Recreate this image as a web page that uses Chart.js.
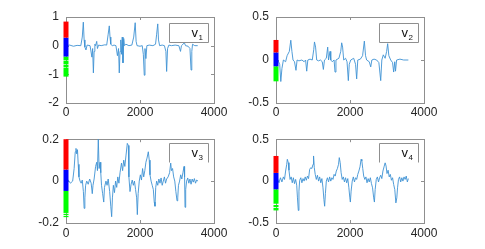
<!DOCTYPE html>
<html>
<head>
<meta charset="utf-8">
<script src="https://cdn.jsdelivr.net/npm/chart.js@4.4.1/dist/chart.umd.min.js"></script>
<style>
  html, body { margin: 0; padding: 0; background: #ffffff; }
  #wrap { position: relative; width: 485px; height: 249px; background: #ffffff; overflow: hidden; }
  canvas { position: absolute; }
</style>
</head>
<body>
<div id="wrap">
  <canvas id="c1" width="240" height="125" style="left:0px;top:0px;width:240px;height:125px"></canvas>
  <canvas id="c2" width="245" height="125" style="left:240px;top:0px;width:245px;height:125px"></canvas>
  <canvas id="c3" width="240" height="124" style="left:0px;top:125px;width:240px;height:124px"></canvas>
  <canvas id="c4" width="245" height="124" style="left:240px;top:125px;width:245px;height:124px"></canvas>
</div>
<script>
// ---------------- data ----------------
const xTicks = [0, 2000, 4000];
const v1Ticks = [-2, -1, 0, 1];
const v2Ticks = [-0.5, 0, 0.5];
const v3Ticks = [-0.2, 0, 0.2];
const v4Ticks = [-0.5, 0, 0.5];

const seriesNames = ["v", "v", "v", "v"];
const seriesSubs = ["1", "2", "3", "4"];

const v1X = [0,100,200,300,400,440,468,490,510,540,570,650,700,720,740,760,780,800,830,850,880,950,1050,1100,1140,1170,1190,1210,1250,1300,1350,1390,1420,1440,1460,1480,1500,1520,1540,1560,1580,1620,1700,1780,1830,1870,1895,1920,2000,2060,2090,2115,2135,2160,2185,2250,2350,2420,2450,2480,2500,2530,2600,2660,2700,2720,2745,2780,2850,2950,3050,3095,3120,3200,3230,3300,3350,3380,3400,3420,3480,3560];
const v1Y = [0,0.02,-0.02,0.01,0,0.3,0.82,0.2,-0.05,-0.15,0.02,0,-0.4,-0.1,-0.95,-0.2,0.05,0,0.15,-0.1,0.02,0,0.03,0.02,0.4,0.69,0.3,0.05,0,0.02,0,-0.35,-0.1,-0.95,-0.2,0.2,-0.3,0.3,-0.6,0.25,0,0.05,0,0.02,0.3,0.8,0.15,0,-0.02,0,-0.3,-1.03,-0.1,-0.45,0,0.02,0,0.05,0.4,0.76,0.2,0,0.02,0,-0.2,-0.9,-0.1,0.02,0,0.02,0,-0.2,0,0.1,0,-0.02,-0.1,-0.85,-0.2,0.05,0,0];

const v2X = [0,60,100,130,160,200,260,300,360,400,430,460,500,540,570,620,700,760,800,830,860,920,980,1020,1040,1070,1100,1150,1200,1250,1280,1310,1360,1397,1420,1460,1480,1520,1570,1595,1620,1700,1750,1775,1800,1830,1880,1920,1955,1980,2020,2100,2150,2180,2210,2280,2340,2388,2420,2450,2520,2560,2590,2650,2720,2780,2830,2860,2900,2950,2990,3018,3050,3100,3150,3180,3210,3230,3260,3350,3450,3577];
const v2Y = [0,-0.01,-0.05,-0.25,-0.1,0,-0.02,0.05,0.1,0.23,0.1,0,-0.02,-0.12,0,-0.01,0,-0.02,0,-0.13,0,0.01,0,0.12,0.21,0.15,0,-0.01,0,-0.02,-0.11,0,0.02,0.15,0,0.1,0,-0.02,0,-0.14,0,0.02,0.1,0.2,0.15,0,0.02,-0.02,-0.24,-0.05,0,0.02,-0.05,-0.22,0,0.01,0.05,0.22,0.05,0,-0.02,-0.08,0,0.01,0,-0.03,-0.24,0,0.06,0.02,0.1,0.19,0.05,0,-0.03,-0.14,-0.02,-0.13,0,0.01,0,0];

const v3X = [0,60,120,180,220,250,270,290,310,330,350,380,410,440,470,490,510,530,560,600,640,680,710,730,760,800,830,850,873,895,920,940,960,990,1020,1040,1080,1110,1140,1180,1210,1234,1255,1280,1310,1340,1370,1400,1430,1460,1500,1530,1560,1590,1620,1657,1685,1700,1730,1760,1790,1820,1850,1880,1910,1928,1950,1980,2010,2040,2070,2100,2130,2160,2190,2225,2250,2270,2300,2330,2360,2385,2405,2425,2450,2480,2510,2540,2570,2600,2630,2660,2690,2720,2760,2800,2830,2850,2880,2910,2940,2970,3000,3020,3040,3070,3100,3130,3160,3190,3205,3217,3235,3260,3290,3320,3350,3380,3410,3440,3470,3500,3530,3568];
const v3Y = [0,0.005,-0.01,0,0.06,0.14,0.156,0.13,0.15,0.08,0.02,0,-0.01,0.005,-0.05,-0.13,-0.08,-0.02,0,-0.015,0.01,-0.01,-0.06,-0.02,0.01,0.07,0.09,0.05,0.2,0.06,0.09,0.04,-0.02,-0.06,-0.1,-0.03,0,-0.02,0.01,-0.05,-0.12,-0.17,-0.08,-0.02,-0.055,0,-0.03,0.02,-0.01,0.04,0.086,0.05,0.1,0.07,0.12,0.18,0.17,0.02,-0.05,-0.015,0.005,-0.02,0,-0.04,-0.08,-0.16,-0.06,0,0.03,0.005,0.06,0.02,0.05,0.09,0.11,0.14,0.1,0.03,0,-0.02,-0.04,-0.1,-0.12,-0.03,0,-0.02,0.01,-0.01,0.015,-0.02,0,0.02,-0.01,0.01,0.02,0.04,0.086,0.05,0.06,0.02,0,-0.05,-0.094,-0.08,-0.02,0,0.03,0.01,0.04,0.07,0.02,-0.125,-0.04,0,0.015,-0.01,0.01,-0.015,0.01,-0.005,0.012,-0.01,0.005,0];

const v4X = [0,40,80,120,160,200,230,260,290,306,333,350,380,410,440,470,500,530,560,580,603,620,640,670,700,730,760,790,820,850,880,910,940,970,1000,1015,1035,1060,1090,1120,1150,1180,1210,1240,1270,1295,1315,1335,1360,1390,1420,1450,1480,1510,1540,1570,1600,1630,1660,1690,1710,1735,1760,1790,1820,1850,1880,1910,1940,1970,1995,2010,2030,2060,2090,2120,2150,2180,2210,2240,2270,2300,2320,2345,2370,2400,2430,2460,2490,2520,2550,2580,2610,2640,2660,2680,2710,2740,2770,2800,2830,2860,2890,2920,2950,2975,3000,3030,3060,3090,3120,3150,3180,3210,3240,3265,3285,3310,3340,3370,3400,3430,3460,3490,3520,3550,3577];
const v4Y = [0,0.03,-0.02,0.04,-0.01,0.05,0.02,0.12,0.2,0.26,0.22,0.13,0.02,0.05,-0.02,0.04,-0.03,0.02,-0.05,-0.2,-0.35,-0.12,0.01,0.04,-0.02,0.03,0,0.05,0.01,0.06,0.03,0.14,0.16,0.15,0.2,0.3,0.16,0.08,0.02,0.07,0,0.05,-0.02,0.03,-0.08,-0.22,-0.3,-0.15,0,0.04,-0.01,0.05,0,0.04,0.02,0.08,0.06,0.12,0.15,0.2,0.28,0.22,0.1,0.02,0.05,-0.01,0.04,-0.02,0.03,-0.08,-0.2,-0.25,-0.12,0,0.05,-0.01,0.04,0.02,0.08,0.12,0.17,0.26,0.24,0.15,0.06,0.02,0.05,-0.02,0.03,-0.01,0.04,-0.03,-0.08,-0.2,-0.25,-0.1,0.02,0.05,-0.01,0.04,0.07,0.03,0.12,0.17,0.22,0.18,0.09,0.13,0.05,0.08,0.01,0.04,-0.04,-0.1,-0.26,-0.2,-0.08,0.02,0.05,-0.01,0.04,0,0.05,0.02,0.06,-0.01,0.03];

// cluster bands drawn on the left axis: [low, high]
const v1Red = [[0.28, 0.84]];
const v1Blue = [[-0.38, 0.28]];
const v1Green = [[-0.50, -0.38], [-0.64, -0.52], [-0.76, -0.66], [-1.08, -0.78]];
const v2Red = [[0.088, 0.233]];
const v2Blue = [[-0.073, 0.088]];
const v2Green = [[-0.248, -0.073]];
const v3Red = [[0.055, 0.2]];
const v3Blue = [[-0.047, 0.055]];
const v3Green = [[-0.152, -0.047], [-0.162, -0.156], [-0.172, -0.166]];
const v4Red = [[0.098, 0.30]];
const v4Blue = [[-0.098, 0.098]];
const v4Green = [[-0.27, -0.098], [-0.31, -0.285], [-0.35, -0.32]];

// ---------------- styles ----------------
const LINE_COLOR = 'rgb(62,146,212)';
const FRAME_COLOR = '#8f8f8f';
const TEXT_COLOR = '#262626';
const FONT_FAMILY = '"Liberation Sans", Arial, Helvetica, sans-serif';

function bandSets(bands, color) {
  return bands.map(b => ({
    type: 'line',
    data: [{ x: xTicks[0], y: b[0] }, { x: xTicks[0], y: b[1] }],
    borderColor: color,
    borderWidth: 5,
    borderCapStyle: 'butt',
    pointRadius: 0,
    clip: false,
    order: 0
  }));
}

const framePlugin = {
  id: 'frame',
  beforeDatasetsDraw(chart) {
    const ca = chart.chartArea, ctx = chart.ctx;
    const xs = chart.scales.x, ys = chart.scales.y;
    ctx.save();
    ctx.strokeStyle = FRAME_COLOR;
    ctx.lineWidth = 1;
    ctx.strokeRect(Math.round(ca.left) + 0.5, Math.round(ca.top) + 0.5,
                   Math.round(ca.right - ca.left), Math.round(ca.bottom - ca.top));
    ctx.beginPath();
    const tl = 3;
    xs.ticks.forEach(t => {
      const px = Math.round(xs.getPixelForValue(t.value)) + 0.5;
      ctx.moveTo(px, ca.bottom); ctx.lineTo(px, ca.bottom - tl);
      ctx.moveTo(px, ca.top); ctx.lineTo(px, ca.top + tl);
    });
    ys.ticks.forEach(t => {
      const py = Math.round(ys.getPixelForValue(t.value)) + 0.5;
      ctx.moveTo(ca.left, py); ctx.lineTo(ca.left + tl, py);
      ctx.moveTo(ca.right, py); ctx.lineTo(ca.right - tl, py);
    });
    ctx.stroke();
    ctx.restore();
  },
  afterDatasetsDraw(chart) {
    const o = chart.options.plugins.frame;
    const ca = chart.chartArea, ctx = chart.ctx;
    const bx = Math.round(ca.right - 45) + 0.5;
    const by = Math.round(ca.top + o.boxTop) + 0.5;
    const bw = 39, bh = 19;
    ctx.save();
    ctx.fillStyle = '#ffffff';
    ctx.fillRect(bx, by, bw, bh);
    ctx.strokeStyle = FRAME_COLOR;
    ctx.lineWidth = 1;
    ctx.beginPath();
    ctx.moveTo(bx, by + bh); ctx.lineTo(bx, by); ctx.lineTo(bx + bw, by); ctx.lineTo(bx + bw, by + bh);
    if (o.boxBottom) { ctx.lineTo(bx, by + bh); }
    ctx.stroke();
    ctx.fillStyle = '#111111';
    ctx.textBaseline = 'alphabetic';
    ctx.textAlign = 'left';
    ctx.font = '13px ' + FONT_FAMILY;
    ctx.fillText(o.name, bx + bw - 17, by + 13);
    ctx.font = '8px ' + FONT_FAMILY;
    ctx.fillText(o.sub, bx + bw - 10, by + 16);
    ctx.restore();
  }
};

function makeChart(id, xs, ys, yTicks, red, blue, green, idx, sizes) {
  const pts = xs.map((x, i) => ({ x: x, y: ys[i] }));
  const datasets = [{
    type: 'line',
    data: pts,
    borderColor: LINE_COLOR,
    borderWidth: 0.9,
    pointRadius: 0,
    tension: 0,
    order: 1
  }].concat(bandSets(red, '#ff0000'), bandSets(blue, '#0000ff'), bandSets(green, '#00ff00'));

  return new Chart(document.getElementById(id), {
    type: 'line',
    data: { datasets: datasets },
    plugins: [framePlugin],
    options: {
      responsive: false,
      animation: false,
      devicePixelRatio: 1,
      events: [],
      layout: { padding: { left: 0, top: sizes.top, right: sizes.right, bottom: 0 } },
      plugins: {
        legend: { display: false },
        tooltip: { enabled: false },
        frame: { name: seriesNames[idx], sub: seriesSubs[idx], boxTop: sizes.boxTop, boxBottom: sizes.boxBottom }
      },
      scales: {
        x: {
          type: 'linear',
          min: xTicks[0], max: xTicks[xTicks.length - 1],
          afterBuildTicks: s => { s.ticks = xTicks.map(v => ({ value: v })); },
          afterFit: s => { s.height = sizes.xh; },
          grid: { display: false, drawTicks: false },
          border: { display: false },
          ticks: {
            padding: sizes.xpad, color: TEXT_COLOR, maxRotation: 0, autoSkip: false,
            font: { family: FONT_FAMILY, size: 12 },
            callback: v => String(v)
          }
        },
        y: {
          type: 'linear',
          min: yTicks[0], max: yTicks[yTicks.length - 1],
          afterBuildTicks: s => { s.ticks = yTicks.map(v => ({ value: v })); },
          afterFit: s => { s.width = sizes.yw; },
          grid: { display: false, drawTicks: false },
          border: { display: false },
          ticks: {
            padding: 7, color: TEXT_COLOR, autoSkip: false,
            font: { family: FONT_FAMILY, size: 12 },
            callback: v => String(v)
          }
        }
      }
    }
  });
}

makeChart('c1', v1X, v1Y, v1Ticks, v1Red, v1Blue, v1Green, 0,
  { top: 17, right: 26, xh: 22, yw: 66, xpad: 2, boxTop: 6, boxBottom: true });
makeChart('c2', v2X, v2Y, v2Ticks, v2Red, v2Blue, v2Green, 1,
  { top: 17, right: 61, xh: 22, yw: 36, xpad: 2, boxTop: 6, boxBottom: true });
makeChart('c3', v3X, v3Y, v3Ticks, v3Red, v3Blue, v3Green, 2,
  { top: 13, right: 26, xh: 26, yw: 66, xpad: 3, boxTop: 4, boxBottom: false });
makeChart('c4', v4X, v4Y, v4Ticks, v4Red, v4Blue, v4Green, 3,
  { top: 13, right: 61, xh: 26, yw: 36, xpad: 3, boxTop: 4, boxBottom: false });
</script>
</body>
</html>
